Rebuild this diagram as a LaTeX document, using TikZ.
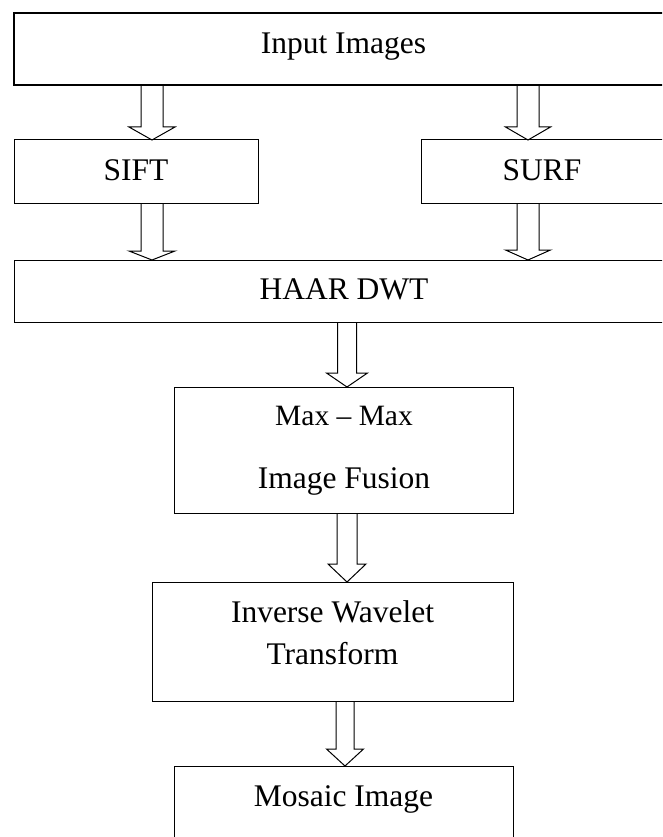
\documentclass[tikz,border=0pt]{standalone}
\usepackage{fontspec}
\setmainfont{Liberation Serif}
\usetikzlibrary{calc}

\tikzset{
  box/.style={draw=black, line width=1pt, rectangle, inner sep=0pt, outer sep=0pt},
  label/.style={anchor=base, inner sep=0pt, font=\fontsize{31.5}{38}\selectfont},
  smalllabel/.style={label, font=\fontsize{29.5}{36}\selectfont},
  arrowline/.style={draw=black, line width=1pt, line join=miter},
}

% Hollow block arrow: #1 column coordinate, #2 source node, #3 target node,
% #4 shaft half width, #5 head half width, #6 head length (all in pt)
\newcommand{\hollowarrow}[6]{%
  \draw[arrowline]
    ($(#2.south -| #1)+(-#4pt,0pt)$) --
    ($(#3.north -| #1)+(-#4pt,#6pt)$) --
    ($(#3.north -| #1)+(-#5pt,#6pt)$) --
    (#3.north -| #1) --
    ($(#3.north -| #1)+(#5pt,#6pt)$) --
    ($(#3.north -| #1)+(#4pt,#6pt)$) --
    ($(#2.south -| #1)+(#4pt,0pt)$);
}

\begin{document}
\begin{tikzpicture}[x=1pt, y=-1pt]
  \useasboundingbox (0,0) rectangle (662,837);
  \clip (0,0) rectangle (662,837);
  \fill[white] (0,0) rectangle (662,837);

  % boxes
  \node[box, line width=2pt, minimum width=659pt, minimum height=72pt] (inp) at (343.5,49) {};
  \node[box, minimum width=244pt, minimum height=63pt] (sift) at (136,171.5) {};
  \node[box, minimum width=242pt, minimum height=63pt] (surf) at (542,171.5) {};
  \node[box, minimum width=659pt, minimum height=62pt] (haar) at (343.5,291) {};
  \node[box, minimum width=339pt, minimum height=126pt] (fuse) at (343.5,450) {};
  \node[box, minimum width=361pt, minimum height=119pt] (iwt) at (332.5,641.5) {};
  \node[box, minimum width=339pt, minimum height=114pt] (mos) at (343.5,823) {};

  % texts
  \node[label] (tinp) at (343.5,54) {Input Images};
  \node[label] (tsift) at (136,180) {SIFT};
  \node[label] (tsurf) at (542,180) {SURF};
  \node[label] (thaar) at (344,299) {HAAR DWT};
  \node[smalllabel] (tmax) at (344,425) {Max -- Max};
  \node[label] (tfuse) at (344,488) {Image Fusion};
  \node[label] (tiwt1) at (332.5,622) {Inverse Wavelet};
  \node[label] (tiwt2) at (332.5,664) {Transform};
  \node[label] (tmos) at (343.5,806) {Mosaic Image};

  % arrow columns
  \coordinate (colL) at (152,0);
  \coordinate (colR) at (528,0);
  \coordinate (colM) at (347,0);
  \coordinate (colB) at (345,0);

  % block arrows
  \hollowarrow{colL}{inp}{sift}{11}{23}{13}
  \hollowarrow{colR}{inp}{surf}{11}{22.5}{13}
  \hollowarrow{colL}{sift}{haar}{11}{23}{9}
  \hollowarrow{colR}{surf}{haar}{11}{22.5}{10}
  \hollowarrow{colM}{haar}{fuse}{9.5}{20.5}{14}
  \hollowarrow{colM}{fuse}{iwt}{10}{19}{18}
  \hollowarrow{colB}{iwt}{mos}{9}{18.5}{17}
\end{tikzpicture}
\end{document}
